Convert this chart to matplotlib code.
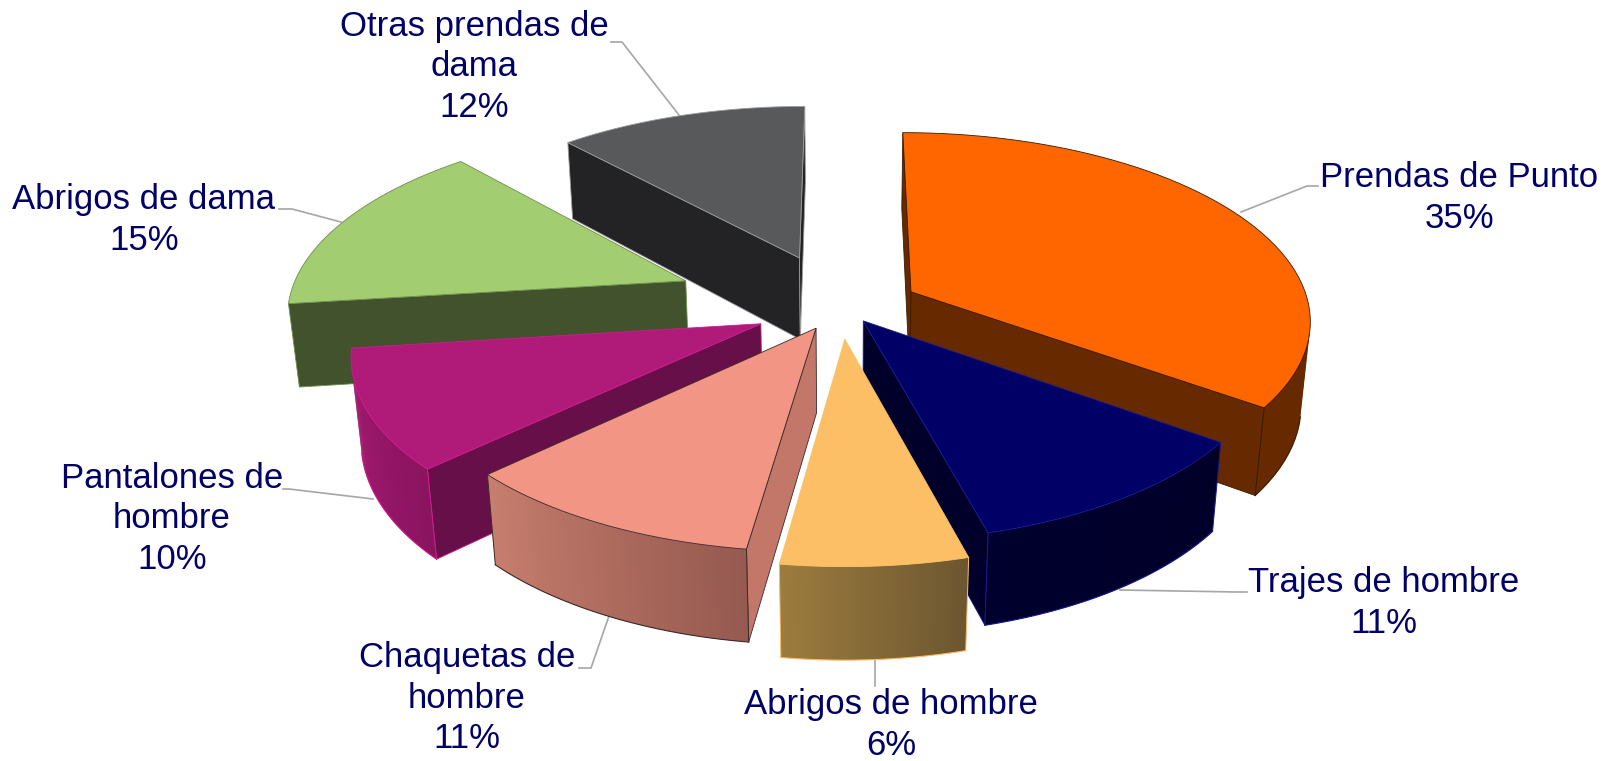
import numpy as np
import matplotlib
matplotlib.use("Agg")
import matplotlib.pyplot as plt
from matplotlib.patches import Polygon

# ---- data ----
categories = ["Prendas de Punto", "Trajes de hombre", "Abrigos de hombre",
              "Chaquetas de\nhombre", "Pantalones de\nhombre", "Abrigos de dama",
              "Otras prendas de\ndama"]
values = [35.0, 10.8, 6.4, 10.7, 10.1, 15.2, 11.8]

# ---- style ----
offset_x = [0.170, 0.048, 0.002, -0.069, -0.206, -0.405, -0.116]
offset_y = [0.053, -0.104, -0.199, -0.142, -0.119, 0.114, 0.245]
top_col = ["#FF6600", "#000066", "#FDBF65", "#F29585", "#B01A78", "#A2CD70", "#58595B"]
wall_col = ["#662900", "#00002A", "#654C28", "#C27768", "#660F48", "#41522C", "#232325"]
rim_a = ["#662900", "#000028", "#6D5630", "#965A50", "#8A1460", "#41522C", "#232325"]   # clockwise start colour
rim_b = ["#662900", "#00002E", "#9C7C3E", "#C77E6E", "#A81A73", "#41522C", "#232325"]   # clockwise end colour
edge_col = ["#3a1a00", "#1a1a90", "#FDBF65", "#3a2a28", "#D01A90", "#6f8f4c", "#9a9a9a"]
label_pos = [(1459, 198), (1384, 603), (891, 725), (467, 698), (172, 519), (144, 220), (474, 67)]
leaders = [[(1241, 212), (1307, 186), (1318, 186)],
           [(1120, 590), (1236, 592), (1247, 592)],
           [(875, 660), (875, 686)],
           [(609, 616), (591, 668), (579, 668)],
           [(373, 499), (289, 489), (283, 489)],
           [(341, 222), (292, 209), (279, 209)],
           [(679, 115), (622, 42), (611, 42)]]

CX, CY, SX, SY, K, WZ, MZ = 844.0, 301.5, 397.0, 184.0, 0.14, 85.0, 0.02


def proj(X, Y, Z):
    d = 1 + K * Y + MZ * Z
    return CX + SX * X / d, CY + (-SY * Y + WZ * Z) / d


def area(p):
    p = np.asarray(p)
    x, y = p[:, 0], p[:, 1]
    return 0.5 * np.sum(x * np.roll(y, -1) - np.roll(x, -1) * y)


def mix(a, b, t):
    ca, cb = np.array(matplotlib.colors.to_rgb(a)), np.array(matplotlib.colors.to_rgb(b))
    return ca + (cb - ca) * t


fig = plt.figure(figsize=(16.04, 7.61), dpi=100)
ax = fig.add_axes([0, 0, 1, 1])
ax.set_xlim(0, 1604)
ax.set_ylim(761, 0)
ax.axis("off")

vals = np.array(values, float)
edges = np.concatenate([[0], np.cumsum(vals)]) / vals.sum() * 2 * np.pi
mids = (edges[:-1] + edges[1:]) / 2
centroid_y = np.array(offset_y) + 0.6 * np.cos(mids)
order = np.argsort(-centroid_y)

for z, i in enumerate(order):
    a0, a1 = edges[i], edges[i + 1]
    ax0, ay0 = offset_x[i], offset_y[i]
    th = np.linspace(a0, a1, 60)
    RX, RY = ax0 + np.sin(th), ay0 + np.cos(th)
    top = np.array([proj(x, y, 0) for x, y in zip(RX, RY)])
    bot = np.array([proj(x, y, 1) for x, y in zip(RX, RY)])
    apex_t = np.array(proj(ax0, ay0, 0))
    apex_b = np.array(proj(ax0, ay0, 1))
    zo = 2 + z
    wall0 = [apex_t, top[0], bot[0], apex_b]
    wall1 = [apex_t, apex_b, bot[-1], top[-1]]
    for w in (wall0, wall1):
        if area(w) < 0:
            ax.add_patch(Polygon(w, closed=True, fc=wall_col[i], ec=edge_col[i], lw=0.6, zorder=zo))
    n = len(th)
    vis = [j for j in range(n - 1) if area([top[j], bot[j], bot[j + 1], top[j + 1]]) >= 0]
    for j in vis:
        e = min(j + 2, vis[-1] + 1)   # overlap the next strip so no seam shows
        q = [top[j], bot[j], bot[e], top[e]]
        ax.add_patch(Polygon(q, closed=True, fc=mix(rim_a[i], rim_b[i], j / (n - 2)), ec="none", zorder=zo))
    if vis:
        s, t = vis[0], vis[-1] + 1
        ax.plot(bot[s:t + 1, 0], bot[s:t + 1, 1], color=edge_col[i], lw=0.8, zorder=zo)
        if s == 0:
            ax.plot([top[0][0], bot[0][0]], [top[0][1], bot[0][1]], color=edge_col[i], lw=0.7, zorder=zo)
        if t == n - 1:
            ax.plot([top[-1][0], bot[-1][0]], [top[-1][1], bot[-1][1]], color=edge_col[i], lw=0.7, zorder=zo)
    face = np.vstack([apex_t, top])
    ax.add_patch(Polygon(face, closed=True, fc=top_col[i], ec=edge_col[i], lw=0.6, zorder=zo))

for name, v, lp, ld in zip(categories, values, label_pos, leaders):
    ax.plot(*zip(*ld), color="#A6A6A6", lw=1.2, zorder=1)
    ax.text(lp[0], lp[1], f"{name}\n{round(v)}%", ha="center", va="center", color="#000066",
            family=["Liberation Sans"], fontsize=25, linespacing=1.28, zorder=30)

fig.savefig("out.png", dpi=100)
